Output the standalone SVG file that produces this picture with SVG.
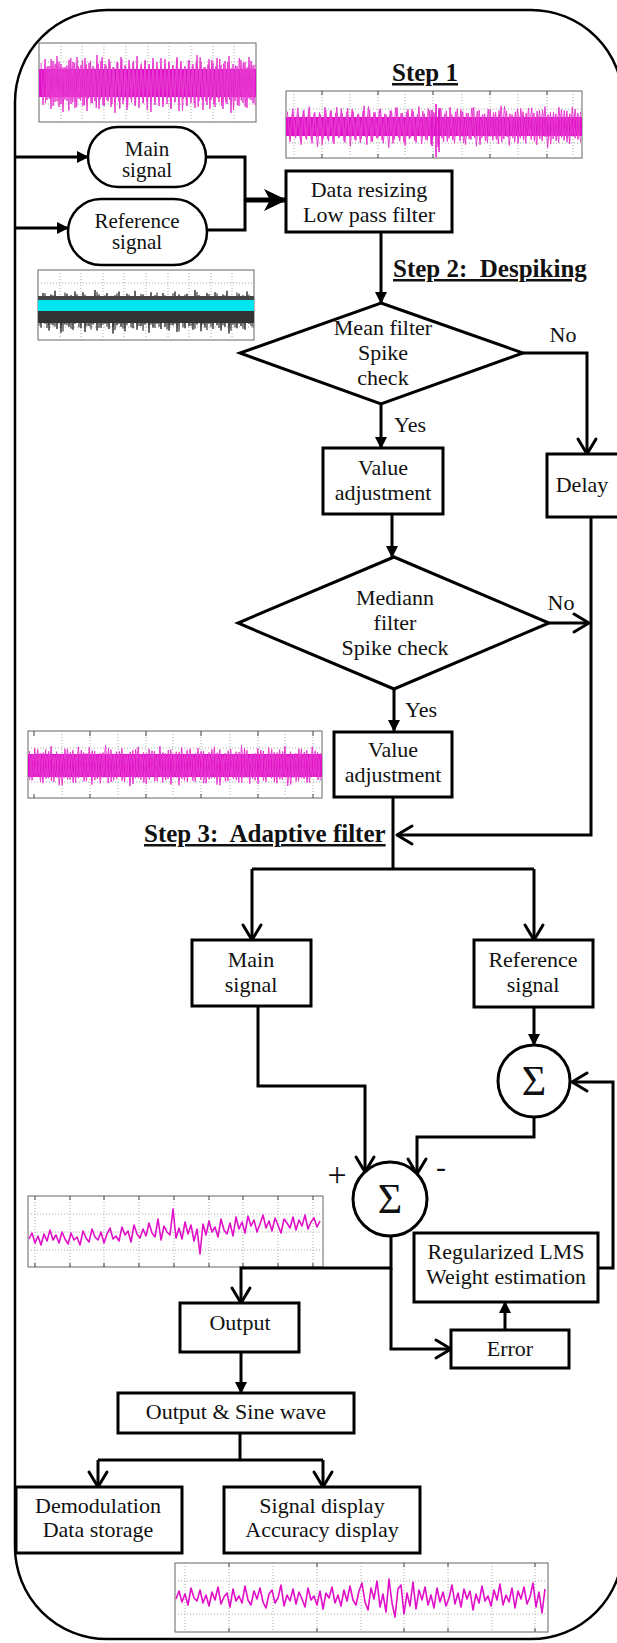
<svg xmlns="http://www.w3.org/2000/svg" width="617" height="1643" viewBox="0 0 617 1643">
<style>
 .box{fill:#fff;stroke:#000;stroke-width:3}
 .term{fill:#fff;stroke:#000;stroke-width:2.5}
 .t{font-family:"Liberation Serif","Times New Roman",serif;font-size:22px;fill:#111;text-anchor:middle}
 .step{font-family:"Liberation Serif","Times New Roman",serif;font-size:25px;font-weight:bold;fill:#111;text-decoration:underline}
 .sig{font-size:42px}
 .c{fill:none;stroke:#000;stroke-width:3}
 .cf{marker-end:url(#fa)}
 .co{marker-end:url(#oa)}
 .frame{fill:#fff;stroke:#666;stroke-width:1}
 .grid{stroke:#aaa;stroke-width:1;stroke-dasharray:1 2;fill:none}
 .tick{stroke:#444;stroke-width:1}
 .core{fill:#e010c8}
 .nz{fill:none;stroke:#e83ad0;stroke-width:1}
 .line{fill:none;stroke:#e010c8;stroke-width:1.6;stroke-linejoin:round}
</style>
<defs>
 <marker id="fa" viewBox="0 0 12 12" markerWidth="12" markerHeight="12" refX="11" refY="6" orient="auto" markerUnits="userSpaceOnUse"><path d="M0,0 L12,6 L0,12 z" fill="#000"/></marker>
 <marker id="oa" viewBox="0 0 20 22" markerWidth="20" markerHeight="22" refX="17" refY="11" orient="auto" markerUnits="userSpaceOnUse" overflow="visible"><path d="M2,2 L17,11 L2,20" fill="none" stroke="#000" stroke-width="3" stroke-linecap="round" stroke-linejoin="round"/></marker>
 <marker id="ta" viewBox="0 0 24 24" markerWidth="24" markerHeight="24" refX="22" refY="12" orient="auto" markerUnits="userSpaceOnUse"><path d="M0,1 L23,12 L0,23 L6,12 z" fill="#000"/></marker>
 <polyline id="dn" vector-effect="non-scaling-stroke" points="1,-20 3,22 5,-24 7,17 9,-17 11,26 13,-22 15,19 17,-27 19,24 21,-19 23,29 25,-16 27,18 29,-23 31,21 33,-21 35,25 37,-26 39,16 41,-18 43,23 45,-25 47,28 49,-20 51,20 53,-17 55,18 57,-28 59,26 61,-22 63,22 65,-19 67,17 69,-24 71,24 73,-16 75,30 77,-21 79,19 81,-26 83,21 85,-18 87,27 89,-23 91,16 93,-20 95,23 97,-27 99,25 101,-17 103,20 105,-22 107,18 109,-19 111,29 113,-25 115,22 117,-21 119,17 121,-16 123,24 125,-24 127,21 129,-20 131,26 133,-18 135,19 137,-26 139,28 141,-22 143,16 145,-17 147,23 149,-23 151,20 153,-19 155,25 157,-28 159,18 161,-21 163,27 165,-16 167,22 169,-24 171,17 173,-20 175,24 177,-25 179,19 181,-18 183,26 185,-22 187,21 189,-27 191,30 193,-19 195,18 197,-17 199,23 201,-23 203,20 205,-21 207,25 209,-26 211,17 213,-18 215,22"/>
</defs>

<rect id="outer-border" x="15" y="10" width="608" height="1629" rx="92" fill="none" stroke="#000" stroke-width="2.5"/>

<g id="plots">
 <g id="plot-main-raw">
  <rect class="frame" x="39" y="43" width="217" height="79"/>
  <path class="grid" d="M61,43V122M82,43V122M104,43V122M126,43V122M148,43V122M169,43V122M191,43V122M213,43V122M234,43V122M39,62H256M39,104H256"/>
  <rect class="core" x="39" y="69" width="217" height="28"/>
  <use href="#dn" class="nz" transform="translate(40,83)"/>
  <use href="#dn" class="nz" stroke="#f070dc" transform="translate(256,83) scale(-0.98,0.92)"/>
 </g>
 <g id="plot-step1">
  <rect class="frame" x="286" y="91" width="296" height="67"/>
  <path class="grid" d="M294,91V158M322,91V158M350,91V158M378,91V158M405,91V158M433,91V158M462,91V158M490,91V158M518,91V158M547,91V158M573,91V158M286,109H582M286,143H582"/>
  <path class="tick" d="M322,158v-4M378,158v-4M433,158v-4M490,158v-4M547,158v-4M322,91v4M378,91v4M433,91v4M490,91v4M547,91v4"/>
  <rect class="core" x="286" y="117" width="296" height="19"/>
  <use href="#dn" class="nz" transform="translate(286,126) scale(1.37,0.72)"/>
  <use href="#dn" class="nz" transform="translate(582,125) scale(-1.36,0.66)"/>
  <path d="M436,104V157M439,108V152M432,110V146" stroke="#e010c8" stroke-width="1.5"/>
 </g>
 <g id="plot-ref-raw">
  <rect class="frame" x="38" y="270" width="216" height="70"/>
  <path class="grid" d="M60,270V340M81,270V340M103,270V340M124,270V340M146,270V340M168,270V340M189,270V340M211,270V340M232,270V340M38,283H254M38,327H254"/>
  <use href="#dn" fill="none" stroke="#3a3a3a" stroke-width="1" transform="translate(38,311) scale(1,0.75)"/>
  <use href="#dn" fill="none" stroke="#666" stroke-width="1" transform="translate(254,311) scale(-1,0.68)"/>
  <rect x="38" y="296" width="216" height="4" fill="#444"/>
  <rect x="38" y="300" width="216" height="11" fill="#00e5ee"/>
  <rect x="38" y="311" width="216" height="12" fill="#333"/>
 </g>
 <g id="plot-despiked">
  <rect class="frame" x="28" y="731" width="294" height="67"/>
  <path class="grid" d="M62,731V798M90,731V798M118,731V798M146,731V798M173,731V798M201,731V798M230,731V798M258,731V798M285,731V798M313,731V798M28,748H322M28,782H322"/>
  <path class="tick" d="M34,731v5M90,731v5M146,731v5M201,731v5M258,731v5M313,731v5M34,798v-4M90,798v-4M146,798v-4M201,798v-4M258,798v-4M313,798v-4"/>
  <rect class="core" x="28" y="754" width="294" height="23"/>
  <use href="#dn" class="nz" transform="translate(28,765) scale(1.36,0.7)"/>
  <use href="#dn" class="nz" transform="translate(322,766) scale(-1.36,0.64)"/>
 </g>
 <g id="plot-adaptive">
  <rect class="frame" x="28" y="1196" width="295" height="71"/>
  <path class="grid" d="M35,1196V1267M70,1196V1267M104,1196V1267M139,1196V1267M174,1196V1267M209,1196V1267M243,1196V1267M278,1196V1267M313,1196V1267M28,1214H323M28,1232H323M28,1250H323"/>
  <path class="tick" d="M35,1196v4M70,1196v4M104,1196v4M139,1196v4M174,1196v4M209,1196v4M243,1196v4M278,1196v4M313,1196v4M35,1267v-4M70,1267v-4M104,1267v-4M139,1267v-4M174,1267v-4M209,1267v-4M243,1267v-4M278,1267v-4M313,1267v-4"/>
  <polyline class="line" transform="translate(28,1231)" points="1,8 4,2 7,12 10,5 13,14 16,3 19,10 22,-1 25,9 28,4 31,12 34,1 37,8 40,13 43,2 46,9 49,6 52,14 55,0 58,7 61,11 64,-2 67,6 70,9 73,1 76,12 79,3 82,-3 85,8 88,5 91,10 94,-4 97,4 100,0 103,11 106,-6 109,3 112,7 115,-2 118,5 121,-8 124,2 127,6 130,-12 133,9 136,-5 139,1 142,4 145,-22 148,7 151,-3 154,8 157,-9 160,3 163,-6 166,10 169,-2 172,23 175,-7 178,4 181,-10 184,1 187,-4 190,6 193,-12 196,-1 199,3 202,-8 205,5 208,-14 211,-2 214,-9 217,2 220,-15 223,-5 226,-11 229,1 232,-7 235,-16 238,-3 241,-10 244,0 247,-13 250,-6 253,2 256,-12 259,-8 262,-3 265,-14 268,-1 271,-11 274,-5 277,-16 280,-2 283,-9 286,-13 289,-4 292,-10"/>
 </g>
 <g id="plot-output">
  <rect class="frame" x="175" y="1563" width="373" height="69"/>
  <path class="grid" d="M185,1563V1632M229,1563V1632M273,1563V1632M317,1563V1632M361,1563V1632M404,1563V1632M448,1563V1632M492,1563V1632M535,1563V1632M175,1581H548M175,1614H548"/>
  <path class="tick" d="M229,1563v4M317,1563v4M404,1563v4M448,1563v4M535,1563v4M229,1632v-4M317,1632v-4M404,1632v-4M448,1632v-4M535,1632v-4"/>
  <polyline class="line" transform="translate(175,1597)" points="1,2 4,-6 7,5 10,-3 13,8 16,-9 19,1 22,4 25,-7 28,6 31,-2 34,9 37,-5 40,3 43,-10 46,7 49,0 52,-4 55,10 58,-8 61,4 64,-1 67,6 70,-11 73,3 76,8 79,-6 82,2 85,-9 88,5 91,11 94,-3 97,-7 100,6 103,1 106,-12 109,9 112,-2 115,4 118,-8 121,7 124,-5 127,2 130,10 133,-9 136,3 139,-1 142,8 145,-6 148,12 151,-4 154,1 157,-10 160,6 163,-2 166,9 169,-7 172,4 175,-11 178,3 181,8 184,-6 187,-14 190,5 193,13 196,-9 199,2 202,-16 205,10 208,-3 211,15 214,-18 217,6 220,20 223,-8 226,-12 229,17 232,-4 235,9 238,-15 241,12 244,-7 247,3 250,-10 253,8 256,-2 259,11 262,-9 265,5 268,-5 271,9 274,1 277,-12 280,7 283,-4 286,10 289,-8 292,2 295,-6 298,13 301,-3 304,6 307,-11 310,4 313,-1 316,9 319,-7 322,3 325,-13 328,8 331,-2 334,5 337,-9 340,11 343,-6 346,2 349,-10 352,7 355,0 358,-14 361,10 364,-5 367,16 370,-8"/>
 </g>
</g>

<g id="connectors">
 <path class="c cf" d="M15,157H88"/>
 <path class="c cf" d="M15,228H68"/>
 <path class="c" d="M206,157H245V230H207"/>
 <path d="M245,200H286" fill="none" stroke="#000" stroke-width="5" marker-end="url(#ta)"/>
 <path class="c cf" d="M381,232V303"/>
 <path class="c co" d="M523,353H587V454"/>
 <path class="c cf" d="M381,404V448"/>
 <path class="c cf" d="M392,514V557"/>
 <path class="c co" d="M549,623H589"/>
 <path class="c co" d="M591,517V835H397"/>
 <path class="c cf" d="M394,689V731"/>
 <path class="c" d="M393,797V869M252,869H534"/>
 <path class="c co" d="M252,869V940"/>
 <path class="c co" d="M534,869V940"/>
 <path class="c cf" d="M534,1007V1045"/>
 <path class="c co" d="M258,1006V1086H365V1172"/>
 <path class="c co" d="M534,1117V1137H417V1174"/>
 <path class="c co" d="M391,1236V1268H241V1303"/>
 <path class="c co" d="M391,1268V1349H451"/>
 <path class="c cf" d="M505,1330V1302"/>
 <path class="c co" d="M598,1268H613V1082H572"/>
 <path class="c cf" d="M241,1352V1393"/>
 <path class="c" d="M240,1433V1460M98,1460H323"/>
 <path class="c co" d="M98,1460V1487"/>
 <path class="c co" d="M323,1460V1487"/>
</g>

<g id="labels">
 <text class="step" x="425" y="81" text-anchor="middle">Step 1</text>
 <text class="step" x="393" y="277">Step 2:&#160; Despiking</text>
 <text class="step" x="144" y="842">Step 3:&#160; Adaptive filter</text>
 <text class="t" x="563" y="342">No</text>
 <text class="t" x="410" y="432">Yes</text>
 <text class="t" x="561" y="610">No</text>
 <text class="t" x="421" y="717">Yes</text>
 <text class="t" x="337" y="1186" style="font-size:34px">+</text>
 <text class="t" x="441" y="1177" style="font-size:30px">-</text>
</g>

<g id="n-main-in">
 <rect class="term" x="88" y="127" width="118" height="60" rx="30"/>
 <text class="t" x="147" y="156" style="font-size:21px">Main</text>
 <text class="t" x="147" y="177" style="font-size:21px">signal</text>
</g>
<g id="n-ref-in">
 <rect class="term" x="68" y="199" width="139" height="66" rx="33"/>
 <text class="t" x="137" y="228" style="font-size:21px">Reference</text>
 <text class="t" x="137" y="249" style="font-size:21px">signal</text>
</g>
<g id="n-resize">
 <rect class="box" x="286" y="171" width="166" height="61"/>
 <text class="t" x="369" y="197">Data resizing</text>
 <text class="t" x="369" y="222">Low pass filter</text>
</g>
<g id="n-mean-check">
 <polygon class="box" points="381,303 523,353 381,404 240,353"/>
 <text class="t" x="383" y="335">Mean filter</text>
 <text class="t" x="383" y="360">Spike</text>
 <text class="t" x="383" y="385">check</text>
</g>
<g id="n-value-adj-1">
 <rect class="box" x="323" y="448" width="120" height="66"/>
 <text class="t" x="383" y="475">Value</text>
 <text class="t" x="383" y="500">adjustment</text>
</g>
<g id="n-delay">
 <rect class="box" x="547" y="454" width="80" height="63"/>
 <text class="t" x="582" y="492">Delay</text>
</g>
<g id="n-median-check">
 <polygon class="box" points="394,557 549,623 394,689 238,623"/>
 <text class="t" x="395" y="605">Mediann</text>
 <text class="t" x="395" y="630">filter</text>
 <text class="t" x="395" y="655">Spike check</text>
</g>
<g id="n-value-adj-2">
 <rect class="box" x="334" y="732" width="118" height="65"/>
 <text class="t" x="393" y="757">Value</text>
 <text class="t" x="393" y="782">adjustment</text>
</g>
<g id="n-main">
 <rect class="box" x="192" y="940" width="119" height="66"/>
 <text class="t" x="251" y="967">Main</text>
 <text class="t" x="251" y="992">signal</text>
</g>
<g id="n-ref">
 <rect class="box" x="474" y="940" width="119" height="67"/>
 <text class="t" x="533" y="967">Reference</text>
 <text class="t" x="533" y="992">signal</text>
</g>
<g id="n-sum-1">
 <circle class="box" cx="534" cy="1081" r="36"/>
 <text class="t sig" x="534" y="1095">Σ</text>
</g>
<g id="n-sum-2">
 <circle class="box" cx="390" cy="1199" r="37"/>
 <text class="t sig" x="390" y="1213">Σ</text>
</g>
<g id="n-lms">
 <rect class="box" x="414" y="1233" width="184" height="69"/>
 <text class="t" x="506" y="1259">Regularized LMS</text>
 <text class="t" x="506" y="1284">Weight estimation</text>
</g>
<g id="n-error">
 <rect class="box" x="451" y="1330" width="118" height="38"/>
 <text class="t" x="510" y="1356">Error</text>
</g>
<g id="n-output">
 <rect class="box" x="180" y="1303" width="119" height="49"/>
 <text class="t" x="240" y="1330">Output</text>
</g>
<g id="n-output-sine">
 <rect class="box" x="118" y="1393" width="236" height="40"/>
 <text class="t" x="236" y="1419">Output &amp; Sine wave</text>
</g>
<g id="n-demod">
 <rect class="box" x="16" y="1487" width="166" height="66"/>
 <text class="t" x="98" y="1513">Demodulation</text>
 <text class="t" x="98" y="1537">Data storage</text>
</g>
<g id="n-display">
 <rect class="box" x="224" y="1487" width="196" height="66"/>
 <text class="t" x="322" y="1513">Signal display</text>
 <text class="t" x="322" y="1537">Accuracy display</text>
</g>
</svg>
